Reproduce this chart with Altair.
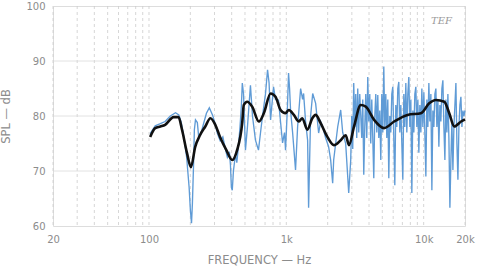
import altair as alt
import pandas as pd

# ---- data ----
smooth_f = [102, 111, 121, 131, 151, 164, 174, 189, 202, 217, 235, 257, 280, 304, 329, 366, 403, 438, 477,
            490, 519, 564, 631, 686, 768, 834, 908, 986, 1043, 1135, 1235, 1307, 1422, 1546, 1634, 1778,
            1990, 2224, 2489, 2705, 2860, 3113, 3483, 3788, 4355, 5152, 6096, 7636, 9553, 10977, 12281,
            14131, 15360, 16713, 18711, 20000]
smooth_db = [76.2, 77.8, 78.1, 78.4, 79.8, 79.8, 77.5, 73.3, 70.7, 74.4, 76.5, 78.1, 79.6, 78.4, 76.2, 73.8,
             72.0, 73.8, 78.7, 82.0, 82.6, 81.7, 79.0, 80.5, 84.1, 83.5, 81.1, 80.5, 81.1, 80.2, 79.0, 79.6,
             77.5, 79.6, 80.2, 78.7, 76.2, 74.7, 75.6, 76.5, 74.7, 78.1, 82.0, 81.7, 79.3, 77.8, 79.0, 80.2,
             80.5, 82.3, 82.9, 82.6, 80.5, 78.1, 79.0, 79.4]

# measured (unsmoothed) response, below 3 kHz
raw_lo_f = [102, 111, 121, 131, 143, 156, 165, 172, 180, 188, 196, 200, 204, 207, 211, 214, 218, 225, 230,
            237, 249, 262, 275, 290, 304, 315, 330, 345, 360, 372, 385, 392, 398, 404, 412, 426, 436, 446,
            460, 471, 478, 488, 504, 521, 548, 567, 596, 627, 649, 671, 705, 730, 749, 768, 807, 834, 877,
            907, 939, 970, 987, 1020, 1038, 1056, 1074, 1111, 1167, 1208, 1271, 1314, 1336, 1381, 1429,
            1453, 1478, 1503, 1556, 1635, 1719, 1779, 1840, 1934, 2033, 2103, 2175, 2212, 2287, 2366, 2488,
            2573, 2705, 2799, 2846]
raw_lo_db = [76.8, 78.2, 78.6, 79.0, 80.0, 80.6, 80.2, 78.8, 76.0, 72.5, 67.0, 63.0, 60.5, 64.0, 71.0,
             77.5, 79.3, 78.8, 76.2, 76.5, 78.5, 80.5, 81.5, 80.2, 78.5, 76.8, 75.5, 76.2, 74.0, 72.5, 73.5,
             71.0, 67.0, 66.5, 70.0, 73.0, 71.5, 74.0, 78.0, 82.0, 86.0, 84.0, 73.8, 78.0, 85.6, 80.0, 75.6,
             73.8, 77.0, 80.0, 84.0, 88.4, 86.0, 79.3, 85.3, 83.0, 82.9, 79.0, 75.1, 77.0, 73.8, 82.0, 87.8,
             85.0, 81.0, 77.0, 70.2, 78.0, 85.0, 83.0, 84.1, 79.0, 75.6, 63.3, 72.0, 80.0, 84.1, 82.3, 76.9,
             79.0, 78.0, 76.0, 74.4, 72.0, 67.8, 72.0, 75.0, 78.0, 81.1, 77.0, 75.0, 69.0, 66.0]

# measured response, 3 kHz - 20 kHz (dense band)
raw_hi_f = [2944, 2994, 3045, 3096, 3149, 3202, 3256, 3311, 3368, 3425, 3483, 3542, 3602, 3663, 3725, 3788,
            3852, 3917, 3984, 4051, 4120, 4190, 4261, 4333, 4406, 4481, 4557, 4634, 4712, 4792, 4873, 4956,
            5040, 5125, 5212, 5300, 5390, 5481, 5574, 5668, 5764, 5862, 5961, 6062, 6165, 6269, 6375, 6483,
            6593, 6705, 6818, 6934, 7051, 7171, 7292, 7416, 7541, 7669, 7799, 7931, 8065, 8202, 8341, 8482,
            8626, 8772, 8920, 9071, 9225, 9381, 9540, 9702, 9866, 10033, 10203, 10376, 10551, 10730, 10912,
            11097, 11285, 11476, 11670, 11868, 12069, 12273, 12481, 12692, 12907, 13126, 13348, 13574,
            13804, 14038, 14276, 14518, 14763, 15013, 15268, 15526, 15789, 16057, 16329, 16605, 16886,
            17172, 17463, 17759, 18060, 18365, 18676, 18993, 19314, 19641, 20000]
raw_hi_db = [72, 80, 74, 86, 78, 84, 76, 85, 77, 84, 80, 76, 83, 69.3, 78, 84, 76, 87.1, 79, 84, 75, 83, 76,
             68.7, 80, 84, 77, 83.8, 76, 81, 72, 84, 77, 89, 78, 84, 76, 83, 68.7, 80, 77, 84, 85.3, 76,
             67.4, 82, 78, 85, 86.2, 77, 82, 75, 68.4, 84, 78, 86, 77, 84, 87.1, 78, 83, 66, 81, 77, 84,
             85.3, 78, 83, 73.3, 82, 77, 85, 78, 84.3, 77, 69, 83, 78, 86, 79, 84, 66.5, 81, 78, 84, 85, 78,
             83, 74.4, 82, 79, 85, 86.5, 78, 72, 83, 77, 84, 76, 63.3, 72, 79, 70.2, 78, 82, 86, 75, 68.4,
             78, 82, 83.5, 78, 81, 80, 81]

grid_f = [20, 30, 40, 50, 60, 70, 80, 90, 100, 200, 300, 400, 500, 600, 700, 800, 900,
          1000, 2000, 3000, 4000, 5000, 6000, 7000, 8000, 9000, 10000, 20000]
grid_db = [70, 80, 90]
tick_f = [20, 100, 1000, 10000, 20000]
tick_db = [60, 70, 80, 90, 100]

smooth = pd.DataFrame({"f": smooth_f, "db": smooth_db})
raw = pd.DataFrame({"f": raw_lo_f + raw_hi_f, "db": raw_lo_db + raw_hi_db})
gv = pd.DataFrame({"f": grid_f})
gh = pd.DataFrame({"db": grid_db})
logo = pd.DataFrame({"f": [13500], "db": [97.3], "t": ["TEF"]})

GREY = "#8c8c8c"
xscale = alt.Scale(type="log", domain=[20, 20000], nice=False)
yscale = alt.Scale(domain=[60, 100], nice=False)

xaxis = alt.Axis(values=tick_f, labelExpr="datum.value >= 1000 ? (datum.value/1000) + 'k' : datum.value",
                 grid=False, ticks=False, domain=False, labelPadding=8, labelColor=GREY,
                 labelFont="DejaVu Sans", labelFontSize=10, title="FREQUENCY — Hz",
                 titleColor=GREY, titleFont="DejaVu Sans", titleFontSize=11.5, titleFontWeight="normal",
                 titlePadding=10, labelFlush=False)
yaxis = alt.Axis(values=tick_db, grid=False, ticks=False, domain=False, labelPadding=8, labelColor=GREY,
                 labelFont="DejaVu Sans", labelFontSize=10, title="SPL — dB", titleColor=GREY,
                 titleFont="DejaVu Sans", titleFontSize=11.5, titleFontWeight="normal", titlePadding=14)

vgrid = alt.Chart(gv).mark_rule(color="#cccccc", strokeWidth=0.8, strokeDash=[3, 3]).encode(
    x=alt.X("f:Q", scale=xscale, axis=xaxis))
hgrid = alt.Chart(gh).mark_rule(color="#dadada", strokeWidth=0.8).encode(
    y=alt.Y("db:Q", scale=yscale, axis=yaxis))
blue = alt.Chart(raw).mark_line(color="#5f9bd6", strokeWidth=1.35).encode(
    x=alt.X("f:Q", scale=xscale), y=alt.Y("db:Q", scale=yscale))
black = alt.Chart(smooth).mark_line(color="#111111", strokeWidth=2.6, interpolate="monotone").encode(
    x=alt.X("f:Q", scale=xscale), y=alt.Y("db:Q", scale=yscale))
tef = alt.Chart(logo).mark_text(color="#9a9a9a", font="DejaVu Serif", fontStyle="italic", fontSize=10,
                                align="center").encode(
    x=alt.X("f:Q", scale=xscale), y=alt.Y("db:Q", scale=yscale), text="t:N")

chart = alt.layer(vgrid, hgrid, blue, black, tef).properties(
    width=412, height=220, autosize="none",
    padding={"left": 53, "top": 6, "right": 21, "bottom": 48},
).configure_view(stroke="#9a9a9a", strokeWidth=1).configure(background="white")

chart.save("out.html", embed_options={"renderer": "svg", "actions": False})
